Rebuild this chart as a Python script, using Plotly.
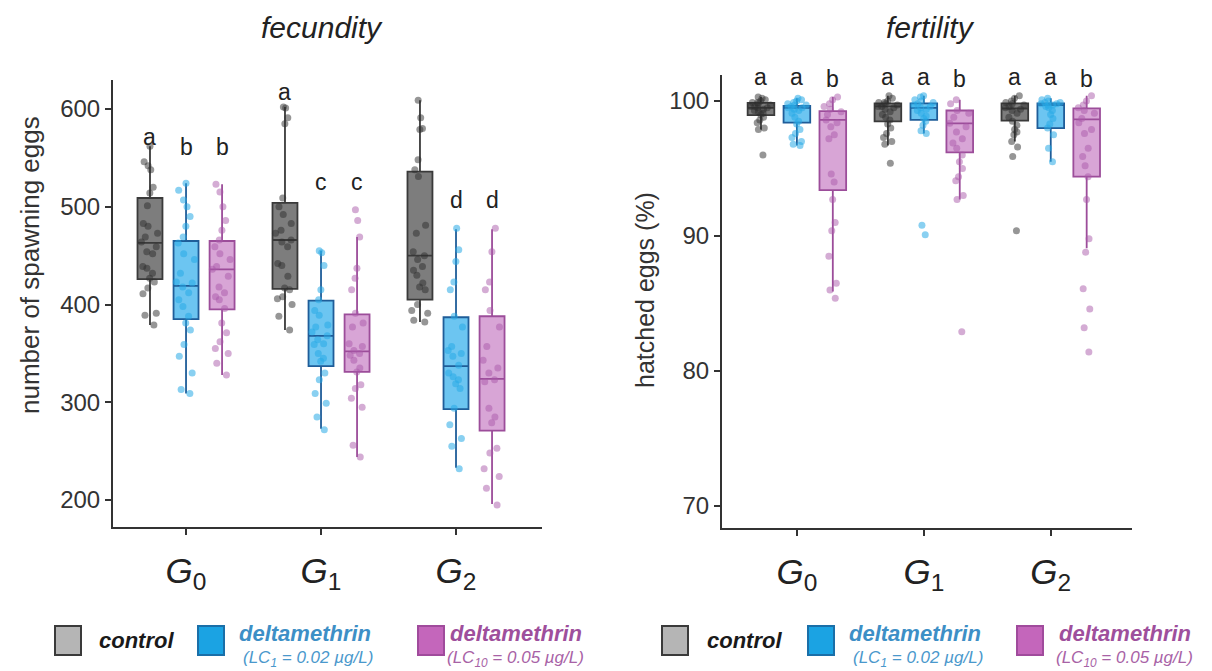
import plotly.graph_objects as go

W, H = 1212, 671

generations = ["G0", "G1", "G2"]
tick_labels = ["<i>G</i><sub>0</sub>", "<i>G</i><sub>1</sub>", "<i>G</i><sub>2</sub>"]
groups = ["control", "LC1", "LC10"]

# ---------------- fecundity (number of spawning eggs) ----------------
fec_points = {
    ("G0", "control"): [562, 546, 542, 538, 520, 514, 501, 483, 480, 473, 469, 464, 459, 454, 452, 439, 437, 432, 427, 423, 417, 411, 391, 389, 379],
    ("G0", "LC1"): [524, 517, 507, 500, 490, 480, 469, 463, 452, 446, 432, 423, 422, 418, 412, 405, 398, 388, 381, 374, 359, 347, 330, 313, 309],
    ("G0", "LC10"): [523, 515, 500, 486, 476, 466, 459, 452, 446, 439, 436, 429, 418, 412, 408, 405, 396, 381, 371, 362, 355, 350, 340, 328],
    ("G1", "control"): [602, 601, 591, 585, 509, 500, 492, 483, 476, 473, 466, 464, 459, 442, 440, 429, 417, 415, 408, 406, 400, 388, 374],
    ("G1", "LC1"): [455, 453, 440, 415, 405, 394, 389, 379, 377, 372, 368, 364, 360, 359, 350, 345, 342, 330, 323, 309, 299, 285, 272],
    ("G1", "LC10"): [497, 486, 469, 437, 427, 415, 391, 381, 377, 360, 357, 353, 350, 348, 343, 335, 331, 318, 314, 304, 295, 256, 244],
    ("G2", "control"): [609, 591, 580, 579, 548, 538, 531, 481, 473, 454, 450, 446, 439, 435, 430, 422, 418, 415, 400, 394, 391, 384, 382],
    ("G2", "LC1"): [478, 456, 444, 423, 415, 388, 377, 357, 353, 350, 347, 338, 330, 326, 323, 319, 314, 294, 277, 263, 255, 232],
    ("G2", "LC10"): [478, 454, 423, 415, 394, 377, 357, 343, 335, 330, 323, 321, 294, 285, 279, 253, 248, 232, 224, 212, 195],
}
# box statistics: lower whisker, q1, median, q3, upper whisker
fec_stats = {
    ("G0", "control"): [379, 426, 463, 509, 562],
    ("G0", "LC1"): [309, 385, 419, 465, 524],
    ("G0", "LC10"): [328, 395, 436, 465, 523],
    ("G1", "control"): [374, 416, 466, 504, 602],
    ("G1", "LC1"): [273, 337, 368, 404, 455],
    ("G1", "LC10"): [244, 331, 352, 390, 469],
    ("G2", "control"): [382, 405, 450, 536, 609],
    ("G2", "LC1"): [233, 293, 337, 387, 477],
    ("G2", "LC10"): [196, 271, 324, 388, 477],
}
fec_letters = {
    ("G0", "control"): ("a", 571), ("G0", "LC1"): ("b", 561), ("G0", "LC10"): ("b", 561),
    ("G1", "control"): ("a", 617), ("G1", "LC1"): ("c", 525), ("G1", "LC10"): ("c", 525),
    ("G2", "control"): ("a", 642), ("G2", "LC1"): ("d", 507), ("G2", "LC10"): ("d", 507),
}
fec_yticks = [200, 300, 400, 500, 600]

# ---------------- fertility (hatched eggs, %) ----------------
fer_points = {
    ("G0", "control"): [100.3, 100.2, 100.1, 100.0, 99.9, 99.9, 99.8, 99.7, 99.6, 99.6, 99.5, 99.5, 99.4, 99.3, 99.2, 99.1, 99.0, 98.8, 98.6, 98.4, 98.0, 97.9, 96.0],
    ("G0", "LC1"): [100.2, 100.1, 100.0, 99.9, 99.8, 99.7, 99.7, 99.6, 99.5, 99.5, 99.4, 99.3, 99.1, 98.8, 98.5, 98.3, 97.9, 97.6, 97.3, 97.0, 96.8, 96.7],
    ("G0", "LC10"): [100.3, 100.1, 99.8, 99.6, 99.4, 99.2, 99.0, 98.6, 98.4, 98.1, 97.5, 97.2, 94.6, 94.0, 92.7, 91.0, 90.4, 88.5, 86.5, 86.0, 85.4],
    ("G1", "control"): [100.4, 100.2, 100.0, 99.9, 99.9, 99.8, 99.7, 99.6, 99.6, 99.5, 99.4, 99.2, 99.0, 98.8, 98.6, 98.3, 98.0, 97.6, 97.3, 97.0, 96.8, 95.4],
    ("G1", "LC1"): [100.4, 100.3, 100.1, 100.0, 99.9, 99.8, 99.7, 99.6, 99.5, 99.4, 99.3, 99.1, 98.9, 98.7, 98.5, 98.2, 97.8, 97.6, 90.8, 90.1],
    ("G1", "LC10"): [100.1, 99.8, 99.3, 99.1, 98.8, 98.35, 98.1, 97.7, 97.2, 96.9, 96.5, 96.0, 95.5, 95.0, 94.4, 94.1, 93.0, 92.7, 82.9],
    ("G2", "control"): [100.4, 100.2, 100.0, 99.9, 99.8, 99.7, 99.6, 99.5, 99.4, 99.3, 99.1, 98.8, 98.5, 98.2, 97.9, 97.7, 97.5, 97.0, 96.6, 95.9, 90.4],
    ("G2", "LC1"): [100.2, 100.1, 100.0, 99.9, 99.9, 99.8, 99.8, 99.7, 99.7, 99.6, 99.5, 99.3, 99.0, 98.7, 98.3, 98.0, 97.5, 96.5, 95.5],
    ("G2", "LC10"): [100.4, 100.0, 99.7, 99.5, 99.3, 99.1, 98.7, 98.4, 97.9, 97.6, 96.5, 95.9, 95.2, 94.4, 92.7, 89.8, 88.8, 86.1, 84.6, 83.2, 81.4],
}
fer_stats = {
    ("G0", "control"): [97.9, 98.96, 99.5, 99.87, 100.3],
    ("G0", "LC1"): [96.7, 98.4, 99.5, 99.65, 100.2],
    ("G0", "LC10"): [85.9, 93.4, 98.6, 99.26, 100.3],
    ("G1", "control"): [96.7, 98.5, 99.6, 99.83, 100.4],
    ("G1", "LC1"): [97.6, 98.6, 99.5, 99.83, 100.4],
    ("G1", "LC10"): [92.7, 96.2, 98.35, 99.3, 100.1],
    ("G2", "control"): [97.0, 98.55, 99.45, 99.83, 100.4],
    ("G2", "LC1"): [95.5, 98.0, 99.7, 99.83, 100.2],
    ("G2", "LC10"): [89.1, 94.4, 98.64, 99.46, 100.4],
}
fer_letters = {
    ("G0", "control"): ("a", 101.8), ("G0", "LC1"): ("a", 101.8), ("G0", "LC10"): ("b", 101.6),
    ("G1", "control"): ("a", 101.8), ("G1", "LC1"): ("a", 101.8), ("G1", "LC10"): ("b", 101.6),
    ("G2", "control"): ("a", 101.8), ("G2", "LC1"): ("a", 101.8), ("G2", "LC10"): ("b", 101.6),
}
fer_yticks = [70, 80, 90, 100]

# ---------------- styling ----------------
FONT = "Liberation Sans, Arial, Helvetica, sans-serif"
style = {
    "control": dict(fill="rgba(118,118,118,0.95)", line="#3a3a3a", pt="rgba(45,45,45,0.5)"),
    "LC1": dict(fill="rgba(100,194,240,0.95)", line="#1f5d99", pt="rgba(40,170,230,0.55)"),
    "LC10": dict(fill="rgba(214,160,212,0.95)", line="#9c4d9a", pt="rgba(170,90,170,0.5)"),
}


def px_x(x):
    return x / W


def px_y(y):
    return 1 - y / H


fig = go.Figure()

panels = [
    dict(xa="x", ya="y", points=fec_points, stats=fec_stats, letters=fec_letters, off=0.267, bw=0.185),
    dict(xa="x2", ya="y2", points=fer_points, stats=fer_stats, letters=fer_letters, off=0.283, bw=0.21),
]

annotations = []
for p in panels:
    for gi, gen in enumerate(generations):
        for k, grp in enumerate(groups):
            pos = gi + (k - 1) * p["off"]
            st = p["stats"][(gen, grp)]
            s = style[grp]
            fig.add_trace(go.Box(
                x=[pos], lowerfence=[st[0]], q1=[st[1]], median=[st[2]], q3=[st[3]], upperfence=[st[4]],
                width=p["bw"], fillcolor=s["fill"], line=dict(color=s["line"], width=1.8),
                whiskerwidth=0, boxpoints=False, xaxis=p["xa"], yaxis=p["ya"], showlegend=False,
                hoverinfo="skip",
            ))
    for gi, gen in enumerate(generations):
        for k, grp in enumerate(groups):
            pos = gi + (k - 1) * p["off"]
            vals = p["points"][(gen, grp)]
            s = style[grp]
            fig.add_trace(go.Box(
                x=[pos] * len(vals), y=vals, width=p["bw"], boxpoints="all", jitter=0.8, pointpos=0,
                fillcolor="rgba(0,0,0,0)", line=dict(color="rgba(0,0,0,0)", width=0), whiskerwidth=0,
                marker=dict(color=s["pt"], size=7, line=dict(width=0)),
                xaxis=p["xa"], yaxis=p["ya"], showlegend=False, hoverinfo="y",
            ))
            letter, ly = p["letters"][(gen, grp)]
            annotations.append(dict(
                x=pos, y=ly, xref=p["xa"], yref=p["ya"], text=letter, showarrow=False,
                font=dict(family=FONT, size=23, color="#222"), xanchor="center", yanchor="middle",
            ))

axis_common = dict(
    showline=True, linecolor="#333", linewidth=2, ticks="outside", ticklen=6, tickwidth=2,
    tickcolor="#333", showgrid=False, zeroline=False, mirror=False,
)

fig.update_layout(
    width=W, height=H, margin=dict(l=0, r=0, t=0, b=0),
    paper_bgcolor="white", plot_bgcolor="white", boxmode="overlay", showlegend=False,
    font=dict(family=FONT, color="#333"),
    xaxis=dict(domain=[px_x(113), px_x(542)], range=[-0.541, 2.637], tickvals=[0, 1, 2],
               ticktext=tick_labels, tickfont=dict(size=35, color="#222"), ticklabelstandoff=6,
               anchor="y", **axis_common),
    yaxis=dict(domain=[px_y(527), px_y(80)], range=[172.4, 629.7], tickvals=fec_yticks,
               tickfont=dict(size=24, color="#333"), anchor="x", **axis_common),
    xaxis2=dict(domain=[px_x(722), px_x(1132)], range=[-0.59, 2.64], tickvals=[0, 1, 2],
                ticktext=tick_labels, tickfont=dict(size=35, color="#222"), ticklabelstandoff=6,
                anchor="y2", **axis_common),
    yaxis2=dict(domain=[px_y(528), px_y(75)], range=[68.37, 101.93], tickvals=fer_yticks,
                tickfont=dict(size=24, color="#333"), anchor="x2", **axis_common),
)

# titles
annotations += [
    dict(x=px_x(322), y=px_y(28), xref="paper", yref="paper", text="<i>fecundity</i>", showarrow=False,
         font=dict(family=FONT, size=30, color="#222"), xanchor="center", yanchor="middle"),
    dict(x=px_x(930), y=px_y(28), xref="paper", yref="paper", text="<i>fertility</i>", showarrow=False,
         font=dict(family=FONT, size=30, color="#222"), xanchor="center", yanchor="middle"),
    dict(x=px_x(30), y=px_y(265), xref="paper", yref="paper", text="number of spawning eggs", showarrow=False,
         textangle=-90, font=dict(family=FONT, size=26, color="#333"), xanchor="center", yanchor="middle"),
    dict(x=px_x(645), y=px_y(290), xref="paper", yref="paper", text="hatched eggs (%)", showarrow=False,
         textangle=-90, font=dict(family=FONT, size=25, color="#333"), xanchor="center", yanchor="middle"),
]

# legends (two identical ones, under each panel)
legend_sets = [
    dict(sq=[55, 198, 418], ctl=97, txt=[237, 448]),
    dict(sq=[662, 808, 1017], ctl=705, txt=[847, 1057]),
]
sq_style = [
    dict(fill="#b5b5b5", line="#3a3a3a"),
    dict(fill="#1ba3e3", line="#1a6fa8"),
    dict(fill="#c466bb", line="#a04b9c"),
]
shapes = []
for L in legend_sets:
    for i, x0 in enumerate(L["sq"]):
        shapes.append(dict(type="rect", xref="paper", yref="paper",
                           x0=px_x(x0), x1=px_x(x0 + 26), y0=px_y(655), y1=px_y(626),
                           fillcolor=sq_style[i]["fill"], line=dict(color=sq_style[i]["line"], width=2)))
    annotations.append(dict(x=px_x(L["ctl"]), y=px_y(640), xref="paper", yref="paper",
                            text="<b><i>control</i></b>", showarrow=False, xanchor="left", yanchor="middle",
                            font=dict(family=FONT, size=22, color="#1a1a1a")))
    annotations.append(dict(x=px_x(L["txt"][0]), y=px_y(633), xref="paper", yref="paper",
                            text="<b><i>deltamethrin</i></b>", showarrow=False, xanchor="left", yanchor="middle",
                            font=dict(family=FONT, size=22, color="#3d8fc6")))
    annotations.append(dict(x=px_x(L["txt"][0] + 4), y=px_y(659), xref="paper", yref="paper",
                            text="<i>(LC<sub>1</sub> = 0.02 µg/L)</i>", showarrow=False, xanchor="left",
                            yanchor="middle", font=dict(family=FONT, size=17, color="#4a98cc")))
    annotations.append(dict(x=px_x(L["txt"][1]), y=px_y(633), xref="paper", yref="paper",
                            text="<b><i>deltamethrin</i></b>", showarrow=False, xanchor="left", yanchor="middle",
                            font=dict(family=FONT, size=22, color="#9e4f9c")))
    annotations.append(dict(x=px_x(L["txt"][1] - 3), y=px_y(659), xref="paper", yref="paper",
                            text="<i>(LC<sub>10</sub> = 0.05 µg/L)</i>", showarrow=False, xanchor="left",
                            yanchor="middle", font=dict(family=FONT, size=17, color="#a862a6")))

fig.update_layout(annotations=annotations, shapes=shapes)
fig.write_html("out.html")
